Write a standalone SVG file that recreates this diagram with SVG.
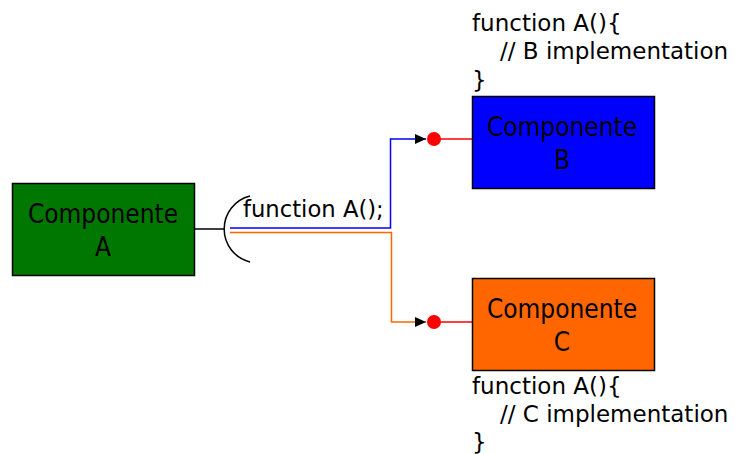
<svg xmlns="http://www.w3.org/2000/svg" width="735" height="454" viewBox="0 0 735 454">
<style>
.box{stroke:#000;stroke-width:1.5}
.lbl{font-family:"DejaVu Sans Condensed","DejaVu Sans",sans-serif;font-stretch:condensed;font-size:26px;text-anchor:middle;fill:#000}
.code{font-family:"DejaVu Sans",sans-serif;font-size:23px;fill:#000}
.ln{fill:none;stroke-width:1.5}
</style>
<defs>
<marker id="arr" markerWidth="11" markerHeight="10" refX="11" refY="5" orient="auto" markerUnits="userSpaceOnUse">
<path d="M0,0 L11,5 L0,10 Z" fill="#000"/>
</marker>
</defs>
<g id="connectors">
<line class="ln" x1="195" y1="229" x2="224" y2="229" stroke="#000"/>
<path class="ln" d="M250,196 A34,34 0 0 0 250,262" stroke="#000"/>
<path class="ln" d="M230,228 H390.5 V139 H426" stroke="#0000ff" marker-end="url(#arr)"/>
<path class="ln" d="M230,232.5 H391.5 V322 H426" stroke="#ff6600" marker-end="url(#arr)"/>
<line class="ln" x1="434" y1="139" x2="472" y2="139" stroke="#ff0000"/>
<line class="ln" x1="434" y1="322" x2="472" y2="322" stroke="#ff0000"/>
<circle cx="434" cy="139" r="7" fill="#ff0000"/>
<circle cx="434" cy="322" r="7" fill="#ff0000"/>
<text class="code" x="243" y="217" style="font-size:22.7px">function A();</text>
</g>
<g id="nodeA">
<rect class="box" x="12.5" y="183.5" width="182" height="92" fill="#007700"/>
<text class="lbl" x="103" y="223">Componente</text>
<text class="lbl" x="103" y="256">A</text>
</g>
<g id="nodeB">
<rect class="box" x="472.5" y="96.5" width="182" height="92" fill="#0000ff"/>
<text class="lbl" x="562" y="136">Componente</text>
<text class="lbl" x="562" y="169">B</text>
</g>
<g id="nodeC">
<rect class="box" x="472.5" y="278.5" width="182" height="92" fill="#ff6600"/>
<text class="lbl" x="562" y="318">Componente</text>
<text class="lbl" x="562" y="351">C</text>
</g>
<g id="codeB">
<text class="code" x="472" y="31">function A(){</text>
<text class="code" x="500" y="59">// B implementation</text>
<text class="code" x="472" y="88">}</text>
</g>
<g id="codeC">
<text class="code" x="472" y="394">function A(){</text>
<text class="code" x="500" y="422">// C implementation</text>
<text class="code" x="472" y="450">}</text>
</g>
</svg>
